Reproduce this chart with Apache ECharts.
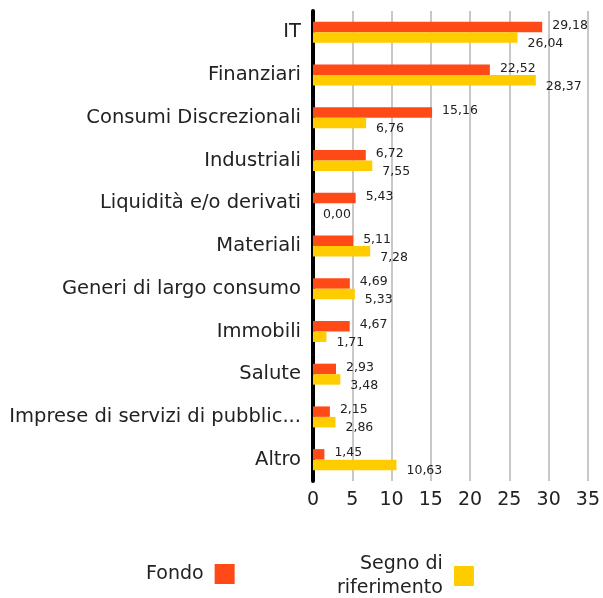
<!DOCTYPE html>
<html>
<head>
<meta charset="utf-8">
<script src="https://cdn.jsdelivr.net/npm/echarts@6/dist/echarts.min.js"></script>
<style>
  html, body { margin: 0; padding: 0; background: #fff; }
  #chart { width: 603px; height: 598px; }
</style>
</head>
<body>
<div id="chart"></div>
<script>
var categories = ['IT', 'Finanziari', 'Consumi Discrezionali', 'Industriali', 'Liquidità e/o derivati',
  'Materiali', 'Generi di largo consumo', 'Immobili', 'Salute', 'Imprese di servizi di pubblic...', 'Altro']
var fondo = [29.18, 22.52, 15.16, 6.72, 5.43, 5.11, 4.69, 4.67, 2.93, 2.15, 1.45]
var riferimento = [26.04, 28.37, 6.76, 7.55, 0.00, 7.28, 5.33, 1.71, 3.48, 2.86, 10.63]
var xTicks = [0, 5, 10, 15, 20, 25, 30, 35]

var font = 'DejaVu Sans'
var fmt = function (p) { return p.value.toFixed(2).replace('.', ',') }

var chart = echarts.init(document.getElementById('chart'))
var option = {
  textStyle: { fontFamily: font },
  animation: false,
  grid: { left: 313, right: 13, top: 11, bottom: 117, containLabel: false },
  legend: [
    {
      data: ['Fondo'],
      icon: 'rect',
      left: 141,
      top: 559,
      align: 'right',
      itemWidth: 20,
      itemHeight: 20,
      formatter: function () { return 'Fondo ' },
      textStyle: { fontSize: 19, color: '#222', fontFamily: font }
    },
    {
      data: ['Segno di riferimento'],
      icon: 'rect',
      left: 332,
      top: 547,
      align: 'right',
      itemWidth: 20,
      itemHeight: 20,
      formatter: function () { return 'Segno di \nriferimento ' },
      textStyle: { fontSize: 19, color: '#222', fontFamily: font, lineHeight: 24, align: 'right' }
    }
  ],
  xAxis: {
    type: 'value',
    min: xTicks[0],
    max: xTicks[xTicks.length - 1],
    interval: 5,
    axisLine: { show: false },
    axisTick: { show: false },
    axisLabel: { fontSize: 19, color: '#222', margin: 10 },
    splitLine: { show: true, lineStyle: { color: '#c8c8c8', width: 2 } }
  },
  yAxis: {
    type: 'category',
    inverse: true,
    data: categories,
    axisLine: { show: true, lineStyle: { color: '#000', width: 4 } },
    axisTick: { show: false },
    axisLabel: { fontSize: 19.5, color: '#222', margin: 12 }
  },
  series: [
    {
      name: 'Fondo',
      type: 'bar',
      data: fondo,
      barWidth: 10.5,
      barGap: '0%',
      itemStyle: { color: '#ff4a17' },
      label: { show: true, position: 'right', distance: 10, offset: [0, -1.5], fontSize: 12.5, color: '#222', formatter: fmt }
    },
    {
      name: 'Segno di riferimento',
      type: 'bar',
      data: riferimento,
      barWidth: 10.5,
      barGap: '0%',
      itemStyle: { color: '#ffcc00' },
      label: { show: true, position: 'right', distance: 10, offset: [0, 6], fontSize: 12.5, color: '#222', formatter: fmt }
    }
  ]
}
chart.setOption(option)
</script>
</body>
</html>
